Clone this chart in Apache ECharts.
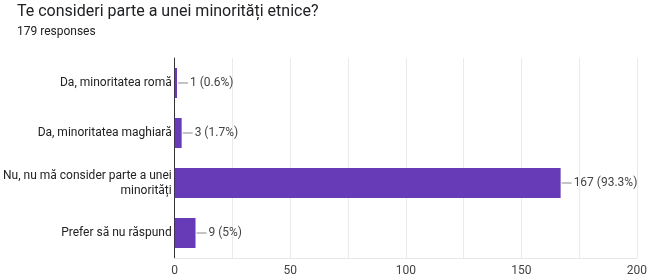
<!DOCTYPE html>
<html><head><meta charset="utf-8">
<script src="https://cdn.jsdelivr.net/npm/echarts@6/dist/echarts.min.js"></script>
<style>html,body{margin:0;padding:0;background:#fff}#c{width:650px;height:278px}</style>
</head><body><div id="c"></div>
<script>
const categories = ['Da, minoritatea romă', 'Da, minoritatea maghiară', 'Nu, nu mă consider parte a unei\nminorități', 'Prefer să nu răspund'];
const counts = [1, 3, 167, 9];
const percents = ['0.6%', '1.7%', '93.3%', '5%'];
const xTicks = [0, 50, 100, 150, 200];

const chart = echarts.init(document.getElementById('c'), null, {renderer: 'canvas'});
chart.setOption({
  animation: false,
  textStyle: {fontFamily: 'Roboto'},
  title: [
    {text: 'Te consideri parte a unei minorități etnice?', left: 12, top: -1,
     textStyle: {fontFamily: 'Roboto', fontSize: 16, fontWeight: 'normal', color: '#202124'}},
    {text: '179 responses', left: 12, top: 21,
     textStyle: {fontFamily: 'Roboto', fontSize: 12, fontWeight: 'normal', color: '#202124'}}
  ],
  grid: {left: 173, right: 10, top: 58, bottom: 20, containLabel: false},
  xAxis: {
    type: 'value', min: 0, max: 200, interval: 25,
    axisLine: {show: true, lineStyle: {color: '#e6e6e6'}},
    axisTick: {show: false},
    splitLine: {show: true, lineStyle: {color: '#ebebeb'}},
    axisLabel: {color: '#444', fontSize: 12, margin: 7,
      formatter: v => xTicks.indexOf(v) >= 0 ? String(v) : ''}
  },
  yAxis: {
    type: 'category', data: categories, inverse: true,
    axisLine: {show: true, lineStyle: {color: '#333'}},
    axisTick: {show: false},
    axisLabel: {color: '#222', fontSize: 12, margin: 3, lineHeight: 15, align: 'right'}
  },
  series: [{
    type: 'bar', data: counts, barWidth: 30,
    itemStyle: {color: '#673ab7'},
    label: {
      show: true, position: 'right', distance: 1,
      formatter: p => '{l| }{v|' + counts[p.dataIndex] + ' (' + percents[p.dataIndex] + ')}',
      rich: {
        l: {width: 10, height: 1, backgroundColor: '#888'},
        v: {color: '#444', fontSize: 12, fontFamily: 'Roboto', padding: [0, 0, 0, 2]}
      }
    }
  }]
});
</script></body></html>
